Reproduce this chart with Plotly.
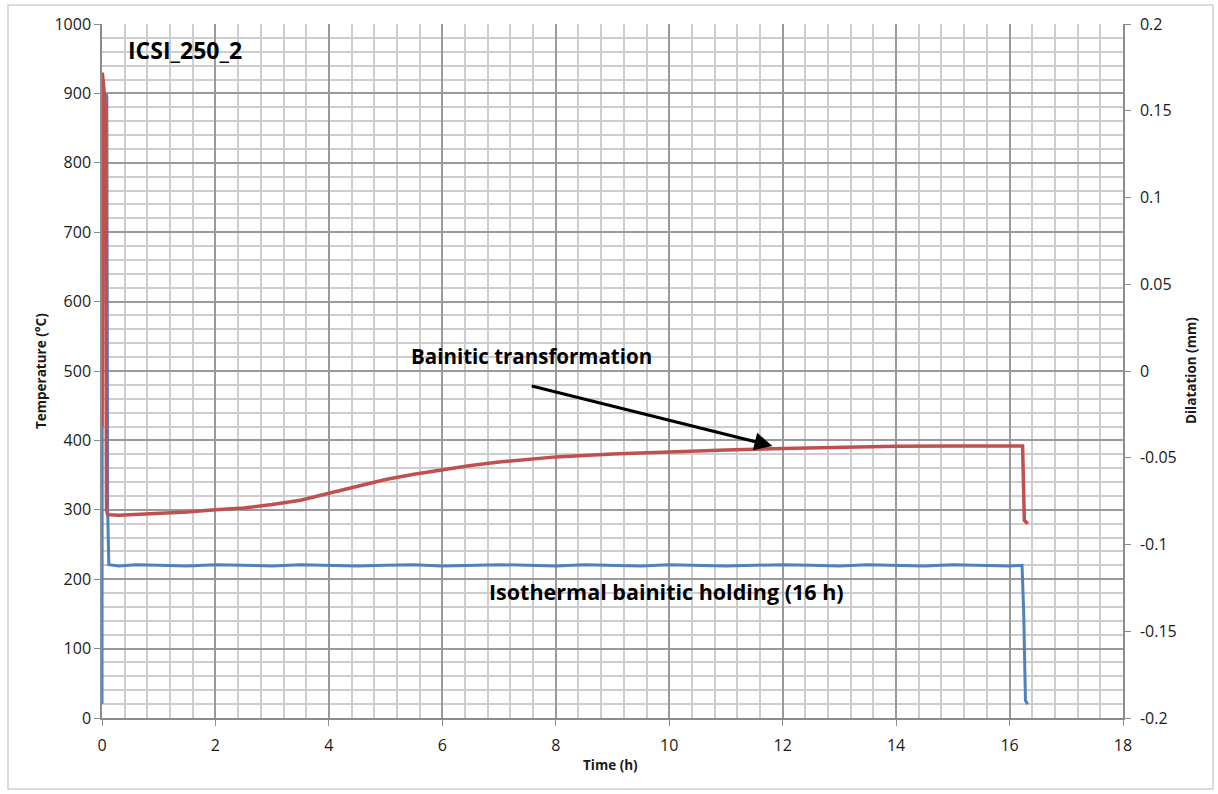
import plotly.graph_objects as go

# ---- Data ----
# Temperature (°C) vs time (h) - blue, left axis
temp_time = [0.0, 0.003, 0.02, 0.05, 0.07, 0.085, 0.1, 0.12, 0.3, 0.6, 1.0, 1.5, 2.0, 2.5, 3.0,
             3.5, 4.0, 4.5, 5.0, 5.5, 6.0, 6.5, 7.0, 7.5, 8.0, 8.5, 9.0, 9.5, 10.0, 10.5,
             11.0, 11.5, 12.0, 12.5, 13.0, 13.5, 14.0, 14.5, 15.0, 15.5, 16.0, 16.22,
             16.25, 16.28, 16.32]
temp_vals = [20, 420, 700, 880, 900, 895, 300, 221, 219, 221, 220, 219, 221, 220, 219,
             221, 220, 219, 220, 221, 219, 220, 221, 220, 219, 221, 220, 219, 221, 220,
             219, 220, 221, 220, 219, 221, 220, 219, 221, 220, 219, 220,
             150, 25, 20]

# Dilatation (mm) vs time (h) - red, right axis
dil_time = [0.0, 0.005, 0.03, 0.06, 0.08, 0.1, 0.3, 0.6, 1.0, 1.5, 2.0, 2.5, 3.0, 3.5,
            4.0, 4.5, 5.0, 5.5, 6.0, 6.5, 7.0, 7.5, 8.0, 9.0, 10.0, 11.0, 12.0,
            13.0, 14.0, 15.0, 16.0, 16.23, 16.26, 16.32]
dil_vals = [-0.032, 0.172, 0.164, 0.152, -0.080, -0.0828, -0.0832, -0.0828, -0.0818, -0.0812,
            -0.0800, -0.0790, -0.0770, -0.0745, -0.0705, -0.0665, -0.0625, -0.0595, -0.0568,
            -0.0545, -0.0525, -0.0510, -0.0495, -0.0478, -0.0465, -0.0455, -0.0446,
            -0.0438, -0.0434, -0.0432, -0.0432, -0.0432, -0.0860, -0.0880]

x_ticks = [0, 2, 4, 6, 8, 10, 12, 14, 16, 18]
y_left_ticks = [0, 100, 200, 300, 400, 500, 600, 700, 800, 900, 1000]
y_right_ticks = [-0.2, -0.15, -0.1, -0.05, 0, 0.05, 0.1, 0.15, 0.2]
y_right_labels = ["-0.2", "-0.15", "-0.1", "-0.05", "0", "0.05", "0.1", "0.15", "0.2"]

FONT = "'Open Sans', sans-serif"
TXT = "#1a1a1a"

L, R, T, B = 102, 1123, 24, 718
PW, PH = R - L, B - T

fig = go.Figure()
fig.add_trace(go.Scatter(x=temp_time, y=temp_vals, mode="lines",
                         line=dict(color="#4F81BD", width=3), yaxis="y", showlegend=False))
fig.add_trace(go.Scatter(x=dil_time, y=dil_vals, mode="lines",
                         line=dict(color="#C0504D", width=3.5), yaxis="y2", showlegend=False))

grid_major = "#9a9a9a"
grid_minor = "#cdcdcd"
axcol = "#8c8c8c"

fig.update_layout(
    width=1218, height=794,
    margin=dict(l=L, r=1218 - R, t=T, b=794 - B),
    paper_bgcolor="white", plot_bgcolor="white",
    font=dict(family=FONT, size=16, color=TXT),
    xaxis=dict(range=[0, 18], tickvals=x_ticks, showgrid=True, gridcolor=grid_major, gridwidth=1.5,
               minor=dict(dtick=0.4, tick0=0, showgrid=True, gridcolor=grid_minor, gridwidth=1.5),
               showline=True, linecolor=axcol, linewidth=1.5, ticks="outside", ticklen=6,
               tickcolor=axcol, zeroline=False, automargin=False, ticklabelstandoff=6),
    yaxis=dict(range=[0, 1000], tickvals=y_left_ticks, showgrid=True, gridcolor=grid_major, gridwidth=1.5,
               minor=dict(dtick=20, tick0=0, showgrid=True, gridcolor=grid_minor, gridwidth=1.5),
               showline=True, linecolor=axcol, linewidth=1.5, ticks="outside", ticklen=6,
               tickcolor=axcol, zeroline=False, automargin=False),
    yaxis2=dict(range=[-0.2, 0.2], overlaying="y", side="right", tickvals=y_right_ticks,
                ticktext=y_right_labels, showgrid=False, zeroline=False,
                showline=True, linecolor=axcol, linewidth=1.5, ticks="outside", ticklen=6,
                tickcolor=axcol, automargin=False, ticklabelstandoff=6),
)

# axis titles placed as annotations
fig.add_annotation(x=(610 - L) / PW, y=(B - 765) / PH, xref="paper", yref="paper",
                   xanchor="center", yanchor="middle",
                   text="<b>Time (h)</b>", showarrow=False, font=dict(size=13.5, family=FONT, color=TXT))
fig.add_annotation(x=(41 - L) / PW, y=(B - 371) / PH, xref="paper", yref="paper", textangle=-90,
                   xanchor="center", yanchor="middle",
                   text="<b>Temperature (°C)</b>", showarrow=False, font=dict(size=13.5, family=FONT, color=TXT))
fig.add_annotation(x=(1191 - L) / PW, y=(B - 371) / PH, xref="paper", yref="paper", textangle=-90,
                   xanchor="center", yanchor="middle",
                   text="<b>Dilatation (mm)</b>", showarrow=False, font=dict(size=13.5, family=FONT, color=TXT))

fig.add_annotation(x=1.46, y=963, xref="x", yref="y", text="<b>ICSI_250_2</b>", showarrow=False,
                   font=dict(size=23, family=FONT, color="black"))
fig.add_annotation(x=7.57, y=521, xref="x", yref="y", text="<b>Bainitic transformation</b>", showarrow=False,
                   font=dict(size=20.5, family=FONT, color="black"))
fig.add_annotation(x=9.95, y=182, xref="x", yref="y", text="<b>Isothermal bainitic holding (16 h)</b>",
                   showarrow=False, font=dict(size=21.5, family=FONT, color="black"))
fig.add_annotation(x=11.82, y=392, ax=7.55, ay=479, xref="x", yref="y", axref="x", ayref="y",
                   text="", showarrow=True, arrowhead=2, arrowsize=1.2, arrowwidth=3, arrowcolor="black")

# chart-area border
fig.add_shape(type="rect", xref="paper", yref="paper",
              x0=(8 - L) / PW, x1=(1213 - L) / PW,
              y0=(B - 789) / PH, y1=(B - 5) / PH,
              line=dict(color="#d0d0d0", width=1.5), layer="below")

fig.write_html("out.html", config={"displayModeBar": False},
               post_script="document.body.style.margin='0';")
